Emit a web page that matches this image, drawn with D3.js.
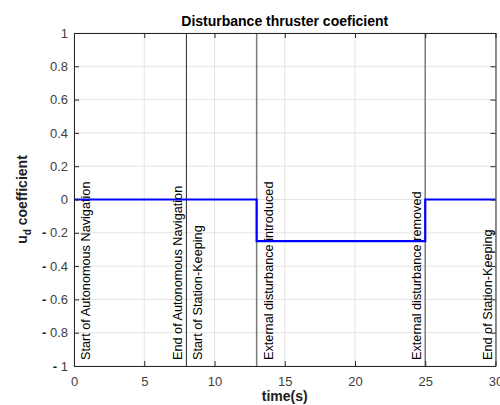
<!DOCTYPE html>
<html><head><meta charset="utf-8">
<script src="https://cdn.jsdelivr.net/npm/d3@7"></script>
<style>body{margin:0;background:#fff;} svg{display:block;font-family:"Liberation Sans",Arial,sans-serif;}</style>
</head><body>
<svg id="c" width="500" height="405"></svg>
<script>
const timeSteps = [0, 13, 13, 25, 25, 30];
const udValues = [0, 0, -0.25, -0.25, 0, 0];
const xTicks = [0, 5, 10, 15, 20, 25, 30];
const yTicks = [1, 0.8, 0.6, 0.4, 0.2, 0, -0.2, -0.4, -0.6, -0.8, -1];
const eventTimes = [0, 8, 8, 13, 25, 30];
const eventLabels = ["Start of Autonomous Navigation", "End of Autonomous Navigation", "Start of Station-Keeping", "External disturbance introduced", "External disturbance removed", "End of Station-Keeping"];
const eventSide = ["right", "left", "right", "right", "left", "left"];
const eventLines = [8, 13, 25];
const eventLineColors = ["#262626", "#7a7a7a", "#7a7a7a"];
const titleText = "Disturbance thruster coeficient";
const xLabelText = "time(s)";

const svg = d3.select("#c");
const L = 74, R = 495.5, T = 33, B = 366;
const x = d3.scaleLinear().domain([0, 30]).range([L, R]);
const y = d3.scaleLinear().domain([-1, 1]).range([B, T]);
const axisCol = "#262626";

// grid
svg.append("g").selectAll("line").data(xTicks).join("line")
  .attr("x1", d => x(d)).attr("x2", d => x(d)).attr("y1", T).attr("y2", B)
  .attr("stroke", "#e3e3e3").attr("stroke-width", 1);
svg.append("g").selectAll("line").data(yTicks).join("line")
  .attr("x1", L).attr("x2", R).attr("y1", d => y(d)).attr("y2", d => y(d))
  .attr("stroke", "#e3e3e3").attr("stroke-width", 1);

// event lines
svg.append("g").selectAll("line").data(eventLines).join("line")
  .attr("x1", d => x(d)).attr("x2", d => x(d)).attr("y1", T).attr("y2", B)
  .attr("stroke", (d, i) => eventLineColors[i]).attr("stroke-width", (d, i) => i === 0 ? 1 : 1.5);

// event labels
svg.append("g").selectAll("text").data(eventLabels).join("text")
  .attr("transform", (d, i) => {
    const bx = eventSide[i] === "right" ? x(eventTimes[i]) + 16 : x(eventTimes[i]) - 4;
    return `translate(${bx},360) rotate(-90)`;
  })
  .attr("font-size", 12.7).attr("fill", "#000").text(d => d);

// data line
const line = d3.line().x((d, i) => x(timeSteps[i])).y(d => y(d)).curve(d3.curveLinear);
svg.append("path").datum(udValues).attr("d", line)
  .attr("fill", "none").attr("stroke", "#0000ff").attr("stroke-width", 2.2);

// axes (inner ticks)
const axB = d3.axisBottom(x).tickValues(xTicks).tickSizeInner(-5).tickSizeOuter(0).tickFormat(d3.format("d"));
const gB = svg.append("g").attr("transform", `translate(0,${B})`).call(axB);
gB.selectAll("text").attr("dy", null).attr("y", 20).attr("font-size", 13).attr("fill", "#404040");
const axT = d3.axisTop(x).tickValues(xTicks).tickSizeInner(-5).tickSizeOuter(0).tickFormat("");
svg.append("g").attr("transform", `translate(0,${T})`).call(axT);
const axL = d3.axisLeft(y).tickValues(yTicks).tickSizeInner(-5).tickSizeOuter(0).tickFormat("");
svg.append("g").attr("transform", `translate(${L},0)`).call(axL);
const axR = d3.axisRight(y).tickValues(yTicks).tickSizeInner(-5).tickSizeOuter(0).tickFormat("");
svg.append("g").attr("transform", `translate(${R},0)`).call(axR);
svg.selectAll(".domain").attr("stroke", axisCol);
svg.selectAll(".tick line").attr("stroke", axisCol);
svg.selectAll("g").attr("font-family", null);

// y tick labels
const yl = svg.append("g").selectAll("text").data(yTicks).join("text")
  .attr("x", 68).attr("y", d => y(d)).attr("dy", "0.36em")
  .attr("text-anchor", "end").attr("font-size", 13).attr("fill", "#404040");
yl.each(function(d) {
  const t = d3.select(this);
  if (d < 0) {
    t.append("tspan").attr("font-weight", "bold").attr("fill", "#202020").text("- ");
    t.append("tspan").text(String(Math.abs(d)));
  } else t.text(String(d));
});

// title
svg.append("text").attr("x", (L + R) / 2).attr("y", 26).attr("text-anchor", "middle")
  .attr("font-size", 14).attr("font-weight", "bold").attr("fill", "#000").text(titleText);
// x label
svg.append("text").attr("x", (L + R) / 2).attr("y", 401).attr("text-anchor", "middle")
  .attr("font-size", 14).attr("font-weight", "bold").attr("fill", "#202020").text(xLabelText);
// y label
const yt = svg.append("text").attr("transform", `translate(27,${(T + B) / 2}) rotate(-90)`)
  .attr("text-anchor", "middle").attr("font-size", 14).attr("font-weight", "bold").attr("fill", "#202020");
yt.append("tspan").text("u");
yt.append("tspan").attr("font-size", 10).attr("dy", 4).text("d");
yt.append("tspan").attr("dy", -4).text(" coefficient");
</script>
</body></html>
